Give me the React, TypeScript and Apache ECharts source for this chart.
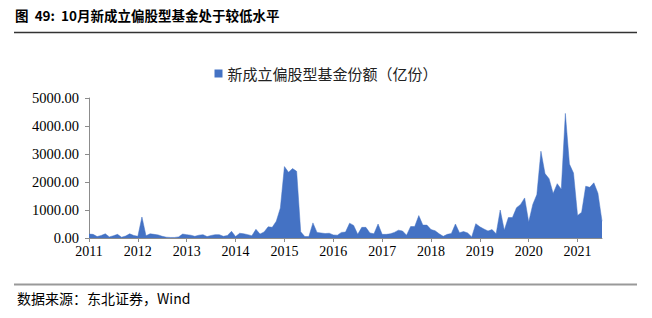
import React, { useEffect, useRef } from "react";
import * as echarts from "echarts";

const years = ["2011", "2012", "2013", "2014", "2015", "2016", "2017", "2018", "2019", "2020", "2021"];
const v2011 = [140, 130, 50, 90, 150, 40, 80, 130, 30, 70, 150, 90];
const v2012 = [60, 750, 80, 150, 130, 110, 60, 30, 20, 20, 40, 140];
const v2013 = [120, 100, 60, 100, 120, 50, 90, 120, 120, 60, 90, 240];
const v2014 = [50, 170, 150, 120, 80, 310, 140, 215, 400, 380, 600, 1070];
const v2015 = [2550, 2350, 2480, 2380, 220, 50, 50, 540, 200, 180, 160, 170];
const v2016 = [110, 100, 200, 210, 530, 450, 130, 380, 380, 180, 150, 500];
const v2017 = [130, 130, 150, 200, 280, 250, 100, 410, 410, 800, 460, 460];
const v2018 = [300, 260, 150, 60, 130, 160, 500, 190, 230, 180, 40, 510];
const v2019 = [400, 320, 250, 300, 150, 1000, 280, 730, 730, 1080, 1200, 1430];
const v2020 = [570, 1200, 1550, 3100, 2300, 2120, 1590, 1940, 1740, 4450, 2640, 2320];
const v2021 = [800, 920, 1850, 1810, 1970, 1600, 600];

const seriesName = "新成立偏股型基金份额（亿份）";
const titleText = "图  49:  10月新成立偏股型基金处于较低水平";
const sourceText = "数据来源：东北证券，Wind";

const yearValues = [v2011, v2012, v2013, v2014, v2015, v2016, v2017, v2018, v2019, v2020, v2021];
const categories: string[] = [];
const values: number[] = [];
yearValues.forEach((arr, yi) => {
  arr.forEach((v, mi) => {
    categories.push(years[yi] + "-" + String(mi + 1).padStart(2, "0"));
    values.push(v);
  });
});

export default function App() {
  const ref = useRef<HTMLDivElement>(null);
  useEffect(() => {
    if (!ref.current) return;
    const chart = echarts.init(ref.current, undefined, { renderer: "svg" });
    const serif = "'Liberation Serif', 'Times New Roman', serif";
    const cjk = "'Noto Sans CJK SC', sans-serif";
    chart.setOption({
      animation: false,
      backgroundColor: "#ffffff",
      grid: { left: 89, right: 50, top: 98, height: 140, containLabel: false },
      legend: {
        data: [seriesName],
        top: 61,
        left: "center",
        icon: "rect",
        itemWidth: 8,
        itemHeight: 8,
        itemGap: 6,
        textStyle: { fontFamily: cjk, fontSize: 15, color: "#222" },
      },
      xAxis: {
        type: "category",
        data: categories,
        boundaryGap: false,
        axisLine: { lineStyle: { color: "#8c8c8c", width: 1 } },
        axisTick: {
          show: true,
          length: 4,
          lineStyle: { color: "#8c8c8c" },
          interval: (i: number) => i % 12 === 0,
        },
        axisLabel: {
          interval: (i: number) => i % 12 === 0,
          formatter: (v: string) => v.slice(0, 4),
          fontFamily: serif,
          fontSize: 14,
          color: "#000",
          margin: 6,
        },
        splitLine: { show: false },
      },
      yAxis: {
        type: "value",
        min: 0,
        max: 5000,
        interval: 1000,
        axisLine: { show: true, lineStyle: { color: "#8c8c8c", width: 1 } },
        axisTick: { show: true, length: 4, lineStyle: { color: "#8c8c8c" } },
        axisLabel: {
          formatter: (v: number) => v.toFixed(2),
          fontFamily: serif,
          fontSize: 14.5,
          color: "#000",
          margin: 10,
        },
        splitLine: { show: false },
      },
      series: [
        {
          name: seriesName,
          type: "line",
          data: values,
          showSymbol: false,
          symbol: "none",
          itemStyle: { color: "#4472C4" },
          lineStyle: { width: 0.5, color: "#4472C4" },
          areaStyle: { color: "#4472C4", opacity: 1 },
        },
      ],
      graphic: [
        {
          type: "text",
          left: 15,
          top: 8,
          style: {
            text: titleText,
            fontFamily: cjk,
            fontWeight: "bold",
            fontSize: 13.5,
            fill: "#000",
          },
        },
        {
          type: "line",
          shape: { x1: 14, y1: 32.5, x2: 637, y2: 32.5 },
          style: { stroke: "#333", lineWidth: 1.5 },
        },
        {
          type: "line",
          shape: { x1: 14, y1: 284.5, x2: 637, y2: 284.5 },
          style: { stroke: "#999", lineWidth: 2 },
        },
        {
          type: "text",
          left: 17,
          top: 291,
          style: {
            text: sourceText,
            fontFamily: cjk,
            fontSize: 14,
            fill: "#000",
          },
        },
      ],
    });
    return () => chart.dispose();
  }, []);
  return (
    <div
      ref={ref}
      style={{ position: "fixed", left: 0, top: 0, width: 652, height: 318, background: "#fff" }}
    />
  );
}
